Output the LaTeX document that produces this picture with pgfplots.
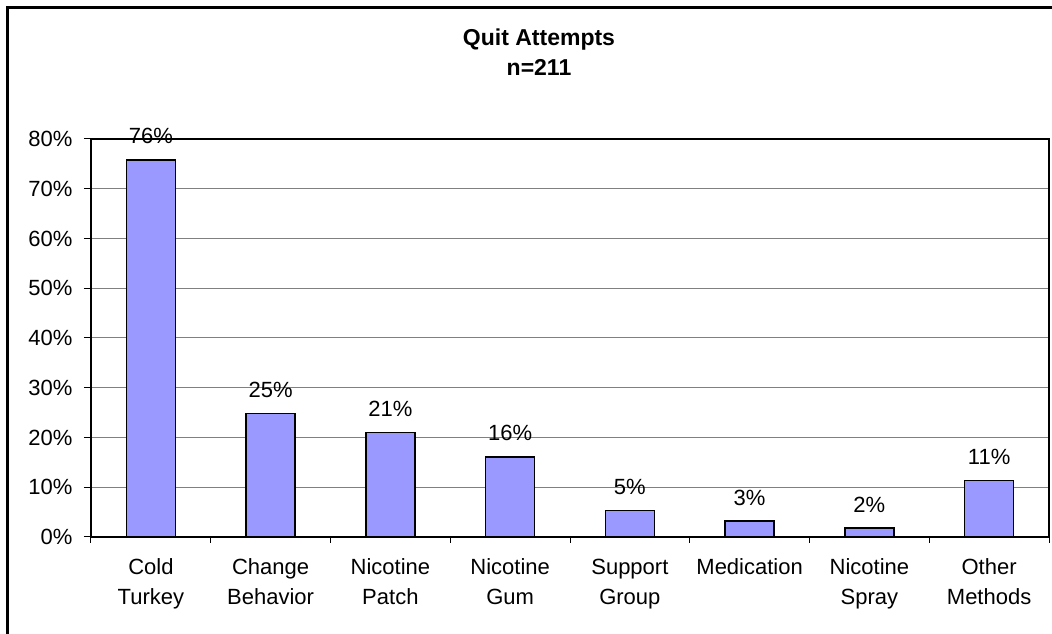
\documentclass[border=0pt]{standalone}
\usepackage{fontspec}
\setmainfont{Liberation Sans}
\usepackage{pgfplots}
\pgfplotsset{compat=1.18}
\definecolor{barblue}{RGB}{153,153,255}
\definecolor{gridgray}{RGB}{128,128,128}

\begin{document}
\begin{tikzpicture}[x=1pt,y=1pt]
\useasboundingbox (0,0) rectangle (1052,634);
\fill[white] (0,0) rectangle (1052,634);
% chart frame
\draw[line width=2.6pt] (7.5,-3) -- (7.5,626.3) -- (1056,626.3);
% title
\node[font=\fontsize{23}{27}\selectfont\bfseries, anchor=base] at (539,588) {Quit Attempts};
\node[font=\fontsize{23}{27}\selectfont\bfseries, anchor=base] at (539,558) {n=211};
\begin{axis}[
  at={(91pt,97pt)}, anchor=south west,
  scale only axis, width=958pt, height=398pt,
  xmin=0.5, xmax=8.5, ymin=0, ymax=80,
  /pgf/number format/assume math mode=true,
  font=\fontsize{22}{30}\selectfont,
  ytick={0,10,...,80},
  yticklabels={0\%,10\%,20\%,30\%,40\%,50\%,60\%,70\%,80\%},
  xtick={1,...,8},
  xticklabels={{Cold\\Turkey},{Change\\Behavior},{Nicotine\\Patch},{Nicotine\\Gum},{Support\vphantom{l}\\Group},{Medication},{Nicotine\\Spray},{Other\\Methods}},
  xticklabel style={align=center, anchor=north, yshift=-11pt},
  yticklabel style={xshift=-8pt},
  minor xtick={0.5,1.5,...,8.5},
  tick align=outside, xtick pos=lower, ytick pos=left,
  major x tick style={draw=none},
  minor x tick style={black, line width=1pt},
  ytick style={black, line width=1pt},
  major tick length=7pt, minor tick length=6pt,
  ymajorgrids, y grid style={gridgray, line width=1pt},
  axis line style={black, line width=1.3pt},
  nodes near coords={\pgfmathprintnumber[fixed,precision=0]{\pgfplotspointmeta}\%},
  every node near coord/.append style={anchor=south, inner sep=0pt, yshift=15pt, font=\fontsize{22}{26}\selectfont},
  point meta=y,
]
\addplot[ybar, bar width=49pt, fill=barblue, draw=black, line width=1.5pt]
  coordinates {(1,75.8) (2,24.8) (3,21.0) (4,16.1) (5,5.3) (6,3.2) (7,1.8) (8,11.4)};
\end{axis}
\end{tikzpicture}
\end{document}
